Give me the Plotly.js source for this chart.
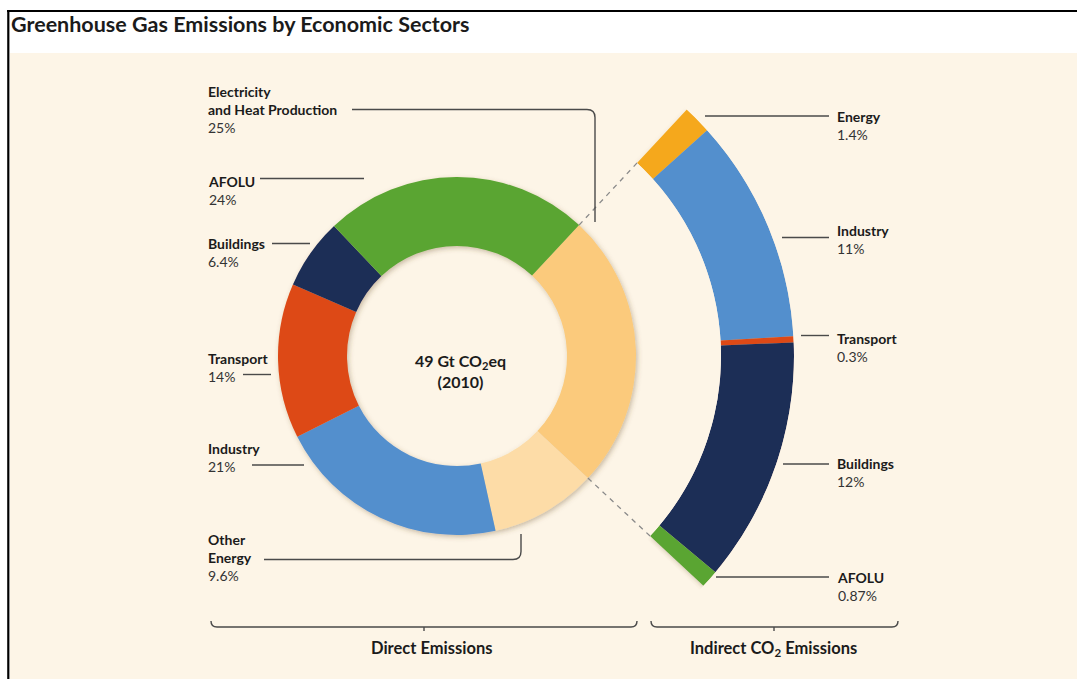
<!DOCTYPE html>
<html>
<head>
<meta charset="utf-8">
<script src="https://cdn.plot.ly/plotly-3.0.1.min.js"></script>
<style>
html,body{margin:0;padding:0;background:#ffffff;}
#chart{width:1077px;height:679px;}
</style>
</head>
<body>
<div id="chart"></div>
<script>
// ---------------- DATA ----------------
const directSectors = ['Electricity and Heat Production', 'Other Energy', 'Industry', 'Transport', 'Buildings', 'AFOLU'];
const directLabels  = ['Electricity<br>and Heat Production', 'Other<br>Energy', 'Industry', 'Transport', 'Buildings', 'AFOLU'];
const directShares  = [25, 9.6, 21, 14, 6.4, 24];
const directColors  = ['#fbca7b', '#fddca7', '#528fcd', '#dd4a15', '#1f2d57', '#5aa533'];

const indirectSectors = ['Energy', 'Industry', 'Transport', 'Buildings', 'AFOLU'];
const indirectShares  = [1.4, 11, 0.3, 12, 0.87];
const indirectColors  = ['#f5a81d', '#528fcd', '#dd4a15', '#1f2d57', '#5aa533'];

const chartTitle   = 'Greenhouse Gas Emissions by Economic Sectors';
const centerLines  = ['49 Gt CO<sub>2</sub>eq', '(2010)'];
const groupLabels  = ['Direct Emissions', 'Indirect CO<sub>2</sub> Emissions'];

// ---------------- LAYOUT GEOMETRY ----------------
const W = 1077, H = 679;
const CX = 457, CY = 356;          // common centre (px)
const R_DONUT = 179, R_HOLE = 110;  // inner donut
const R_ARC = 337, R_ARC_IN = 264;  // outer (indirect) arc
const ROT = 43;                     // start angle of first slice, clockwise from 12 o'clock
const CREAM = '#fdf5e7';
const INK = '#1b1b1b';
const LINE = '#4a4a4a';
const FONT = 'Lato, "Open Sans", sans-serif';

const px = x => x / W;
const py = y => 1 - y / H;
const P = (x, y) => px(x) + ',' + py(y);

// angular span of the electricity slice -> the indirect arc fills it
const directTotal = directShares.reduce((a, b) => a + b, 0);
const elecSpan = 360 * directShares[0] / directTotal;
const indirectTotal = indirectShares.reduce((a, b) => a + b, 0);
const degPerUnit = elecSpan / indirectTotal;
let cum = 0;
const indTheta = [], indWidth = [];
indirectShares.forEach(v => {
  indTheta.push(ROT + degPerUnit * (cum + v / 2));
  indWidth.push(degPerUnit * v);
  cum += v;
});

// polar sector (math angles, ccw from east)
const secStart = 90 - (ROT + elecSpan) - 1;
const secEnd = 90 - ROT + 1;
function mod(a, n) { return ((a % n) + n) % n; }
function sectorBBox(sector) {
  const s0 = sector[0], s1 = sector[1], arc = s1 - s0;
  const a0 = mod(s0, 360), a1 = a0 + arc;
  const d = Math.PI / 180;
  const ax0 = Math.cos(a0 * d), ay0 = Math.sin(a0 * d), ax1 = Math.cos(a1 * d), ay1 = Math.sin(a1 * d);
  let x0, y0, x1, y1;
  if ((a0 <= 90 && a1 >= 90) || (a0 > 90 && a1 >= 450)) y1 = 1;
  else if (ay0 <= 0 && ay1 <= 0) y1 = 0; else y1 = Math.max(ay0, ay1);
  if ((a0 <= 180 && a1 >= 180) || (a0 > 180 && a1 >= 540)) x0 = -1;
  else if (ax0 >= 0 && ax1 >= 0) x0 = 0; else x0 = Math.min(ax0, ax1);
  if ((a0 <= 270 && a1 >= 270) || (a0 > 270 && a1 >= 630)) y0 = -1;
  else if (ay0 >= 0 && ay1 >= 0) y0 = 0; else y0 = Math.min(ay0, ay1);
  if (a1 >= 360) x1 = 1;
  else if (ax0 <= 0 && ax1 <= 0) x1 = 0; else x1 = Math.max(ax0, ax1);
  return [x0, y0, x1, y1];
}
const bb = sectorBBox([secStart, secEnd]);
const pxOff = CX + R_ARC * bb[0];
const pyOff = CY - R_ARC * bb[3];
const pxLen = R_ARC * (bb[2] - bb[0]);
const pyLen = R_ARC * (bb[3] - bb[1]);

// ---------------- TRACES ----------------
const donut = {
  type: 'pie',
  labels: directSectors,
  values: directShares,
  sort: false,
  direction: 'clockwise',
  rotation: ROT,
  hole: R_HOLE / R_DONUT,
  marker: { colors: directColors, line: { width: 0 } },
  textinfo: 'none',
  hoverinfo: 'skip',
  showlegend: false,
  domain: { x: [px(CX - R_DONUT), px(CX + R_DONUT)], y: [py(CY + R_DONUT), py(CY - R_DONUT)] }
};

const arc = {
  type: 'barpolar',
  subplot: 'polar',
  r: indirectShares.map(() => 1),
  theta: indTheta,
  width: indWidth,
  text: indirectSectors,
  marker: { color: indirectColors, line: { width: 0 } },
  hoverinfo: 'skip',
  showlegend: false
};

// ---------------- SHAPES ----------------
const shapes = [];
// cream panel
shapes.push({ type: 'rect', xref: 'paper', yref: 'paper', x0: px(10), x1: px(W), y0: py(53), y1: py(H),
  fillcolor: CREAM, line: { width: 0 }, layer: 'below' });
// frame lines
shapes.push({ type: 'line', xref: 'paper', yref: 'paper', x0: px(7), x1: px(W), y0: py(11), y1: py(11),
  line: { color: '#000', width: 2.2 } });
shapes.push({ type: 'line', xref: 'paper', yref: 'paper', x0: px(8.3), x1: px(8.3), y0: py(10), y1: py(H),
  line: { color: '#000', width: 2.2 } });

// dashed connectors between the electricity slice and the indirect arc
[ROT, ROT + elecSpan].forEach(a => {
  const r = a * Math.PI / 180;
  shapes.push({ type: 'line', xref: 'paper', yref: 'paper',
    x0: px(CX + R_DONUT * Math.sin(r)), y0: py(CY - R_DONUT * Math.cos(r)),
    x1: px(CX + R_ARC_IN * Math.sin(r)), y1: py(CY - R_ARC_IN * Math.cos(r)),
    line: { color: '#8a8a8a', width: 1.3, dash: '5px,5px' } });
});

function hline(x0, x1, y) {
  shapes.push({ type: 'line', xref: 'paper', yref: 'paper', x0: px(x0), x1: px(x1), y0: py(y), y1: py(y),
    line: { color: LINE, width: 1.4 } });
}
function pathShape(d) {
  shapes.push({ type: 'path', xref: 'paper', yref: 'paper', path: d, line: { color: LINE, width: 1.4 } });
}
// leader lines (left)
pathShape('M' + P(352, 109.5) + ' L' + P(587, 109.5) + ' Q' + P(595, 109.5) + ' ' + P(595, 117.5) + ' L' + P(595, 222));
hline(260, 364, 178.5);
hline(272, 310, 243.5);
hline(243, 271, 374.5);
hline(252, 304, 465);
pathShape('M' + P(264, 559.5) + ' L' + P(513, 559.5) + ' Q' + P(521, 559.5) + ' ' + P(521, 551.5) + ' L' + P(521, 534));
// leader lines (right)
hline(705, 829, 116);
hline(782, 829, 237.5);
hline(801, 829, 335.5);
hline(783, 829, 464);
hline(716, 829, 577);
// braces
function brace(x0, x1, xm) {
  pathShape('M' + P(x0, 621) + ' Q' + P(x0, 627) + ' ' + P(x0 + 6, 627) + ' L' + P(x1 - 6, 627) +
            ' Q' + P(x1, 627) + ' ' + P(x1, 621));
  pathShape('M' + P(xm, 627) + ' L' + P(xm, 631));
}
brace(211, 637, 424);
brace(651, 898, 774);

// ---------------- ANNOTATIONS ----------------
const annotations = [];
function label(x, y, html, size, align, xanchor) {
  annotations.push({ xref: 'paper', yref: 'paper', x: px(x), y: py(y), text: html, showarrow: false,
    xanchor: xanchor || 'left', yanchor: 'middle', align: align || 'left',
    font: { family: FONT, size: size || 14, color: INK } });
}
function block(name, value) {
  return name.split('<br>').map(s => '<b>' + s + '</b>').join('<br>') +
         '<br><span style="color:#333">' + value + '%</span>';
}
// title
label(9, 24, '<b>' + chartTitle + '</b>', 21.5);
// direct labels: order follows directSectors
const dirLabelPos = [[206, 110], [206, 557], [206, 457], [206, 367], [206, 252], [206, 190]];
directShares.forEach((v, i) => label(dirLabelPos[i][0], dirLabelPos[i][1], block(directLabels[i], v)));
// indirect labels
const indLabelPos = [[835, 125], [835, 239], [835, 347], [835, 472], [835, 586]];
indirectShares.forEach((v, i) => label(indLabelPos[i][0], indLabelPos[i][1], block(indirectSectors[i], v)));
// centre text
label(460, 371, '<b>' + centerLines[0] + '</b><br><b>' + centerLines[1] + '</b>', 16, 'center', 'center');
// group labels
label(431, 648, '<b>' + groupLabels[0] + '</b>', 16.5, 'center', 'center');
label(773, 648, '<b>' + groupLabels[1] + '</b>', 16.5, 'center', 'center');

// ---------------- LAYOUT ----------------
const layout = {
  width: W, height: H,
  margin: { l: 0, r: 0, t: 0, b: 0, pad: 0 },
  paper_bgcolor: '#ffffff',
  plot_bgcolor: 'rgba(0,0,0,0)',
  showlegend: false,
  font: { family: FONT, color: INK },
  polar: {
    domain: { x: [px(pxOff), px(pxOff + pxLen)], y: [py(pyOff + pyLen), py(pyOff)] },
    sector: [secStart, secEnd],
    hole: R_ARC_IN / R_ARC,
    bgcolor: 'rgba(0,0,0,0)',
    radialaxis: { visible: false, range: [0, 1] },
    angularaxis: { visible: false, direction: 'clockwise', rotation: 90, thetaunit: 'degrees' },
    bargap: 0
  },
  shapes: shapes,
  annotations: annotations
};

Plotly.newPlot('chart', [donut, arc], layout, { staticPlot: true, displayModeBar: false }).then(gd => {
  // soft drop shadow like the reference graphic
  const svg = gd.querySelector('.main-svg');
  if (!svg) return;
  let defs = svg.querySelector('defs');
  if (!defs) { defs = document.createElementNS('http://www.w3.org/2000/svg', 'defs'); svg.insertBefore(defs, svg.firstChild); }
  const f = document.createElementNS('http://www.w3.org/2000/svg', 'filter');
  f.setAttribute('id', 'softshadow');
  f.setAttribute('x', '-20%'); f.setAttribute('y', '-20%');
  f.setAttribute('width', '140%'); f.setAttribute('height', '140%');
  const ds = document.createElementNS('http://www.w3.org/2000/svg', 'feDropShadow');
  ds.setAttribute('dx', '1.5'); ds.setAttribute('dy', '2');
  ds.setAttribute('stdDeviation', '2.5');
  ds.setAttribute('flood-color', '#6b4e2a'); ds.setAttribute('flood-opacity', '0.35');
  f.appendChild(ds); defs.appendChild(f);
  gd.querySelectorAll('.pielayer .trace, .polarlayer .barlayer').forEach(g => g.setAttribute('filter', 'url(#softshadow)'));
});
</script>
</body>
</html>
